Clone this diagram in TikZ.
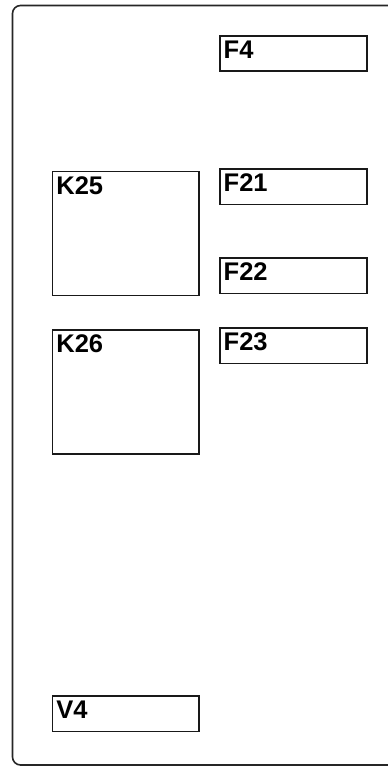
\documentclass[tikz,border=0pt]{standalone}
\usepackage{fontspec}
\setmainfont{Liberation Sans}
\begin{document}
\begin{tikzpicture}[x=1pt,y=-1pt,
  box/.style={draw=black!90, line width=1.5pt, anchor=north west, inner sep=0pt, minimum width=147pt},
  fbox/.style={box, minimum height=35.3pt},
  kbox/.style={box, minimum height=124pt},
  lab/.style={anchor=base west, inner sep=0pt, font=\fontsize{25.5}{25.5}\selectfont\bfseries}]
\useasboundingbox (0,0) rectangle (388,766);
\draw[line width=1.6pt, black!85, rounded corners=8pt] (400,5.5) -- (12.5,5.5) -- (12.5,765) -- (400,765);
% boxes
\node[fbox] (F4)  at (219,35) {};
\node[kbox, minimum width=146.3pt] (K25) at (51.7,170.7) {};
\node[fbox] (F21) at (219,168.3) {};
\node[fbox] (F22) at (219,257.3) {};
\node[kbox, minimum width=146.3pt] (K26) at (51.7,329.3) {};
\node[fbox] (F23) at (219,327.3) {};
\node[fbox, minimum width=146.7pt] (V4) at (51.7,695.3) {};
% labels
\foreach \n in {F4,K25,F21,F22,K26,F23,V4}{
  \node[lab] (t\n) at ([xshift=4.5pt,yshift=-23.5pt]\n.north west) {\n};
}
\end{tikzpicture}
\end{document}
